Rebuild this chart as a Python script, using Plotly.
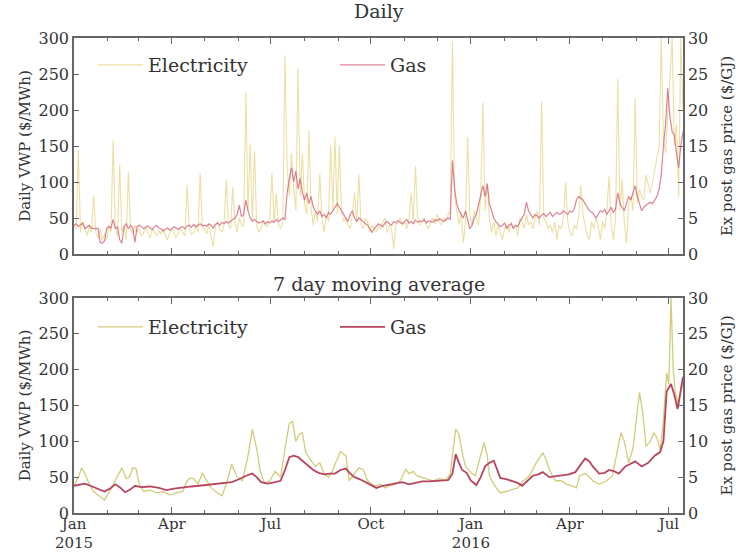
import pandas as pd
import plotly.graph_objects as go
from plotly.subplots import make_subplots

# ---------------- data ----------------
START = "2015-01-01"
# Daily series, sampled every 2 days from 2015-01-01 (281 values)
elec_daily = [
    40, 35, 144, 30, 45, 38, 25, 40, 30, 82,
    30, 22, 35, 18, 28, 20, 40, 30, 158, 35,
    25, 124, 30, 40, 20, 114, 35, 28, 40, 30,
    35, 25, 30, 38, 28, 22, 35, 30, 25, 32,
    28, 35, 25, 20, 30, 35, 28, 22, 30, 35,
    30, 25, 96, 35, 28, 30, 40, 30, 112, 38,
    35, 28, 40, 25, 10, 38, 45, 35, 30, 42,
    103, 40, 35, 93, 45, 30, 50, 40, 38, 225,
    60, 153, 45, 143, 40, 30, 35, 45, 40, 38,
    50, 112, 45, 84, 40, 35, 45, 276, 120, 80,
    140, 90, 60, 258, 80, 140, 70, 55, 172, 65,
    40, 60, 45, 112, 50, 30, 55, 45, 151, 60,
    163, 55, 151, 60, 45, 50, 40, 35, 55, 85,
    45, 110, 40, 35, 50, 45, 30, 40, 35, 30,
    40, 35, 45, 50, 30, 40, 35, 7, 40, 45,
    50, 40, 45, 35, 50, 85, 45, 122, 50, 40,
    45, 50, 40, 35, 45, 50, 42, 55, 45, 40,
    50, 45, 55, 60, 295, 80, 60, 40, 60, 15,
    45, 162, 55, 40, 60, 50, 40, 80, 210, 60,
    97, 50, 30, 45, 25, 40, 30, 20, 35, 40,
    30, 45, 35, 40, 25, 50, 45, 35, 55, 40,
    45, 35, 50, 60, 40, 212, 50, 45, 35, 40,
    30, 45, 20, 40, 35, 50, 99, 45, 30, 25,
    40, 35, 50, 95, 55, 40, 25, 20, 45, 35,
    50, 40, 20, 45, 35, 60, 108, 40, 20, 50,
    243, 60, 104, 45, 15, 70, 80, 60, 217, 70,
    90, 80, 75, 110, 95, 85, 100, 115, 130, 150,
    300, 160, 140, 200, 250, 300, 150, 180, 80, 300,
    200,
]
gas_daily = [
    4.0, 4.2, 3.8, 4.0, 4.3, 3.5, 3.8, 4.0, 3.6, 3.5,
    3.5, 3.6, 1.6, 1.5, 1.8, 3.5, 3.8, 3.6, 4.8, 3.5,
    3.8, 2.0, 1.5, 3.8, 4.2, 3.5, 4.0, 3.6, 1.6, 3.8,
    4.0, 3.8, 3.5, 3.7, 3.9, 3.6, 3.4, 3.8, 4.0, 3.6,
    3.5, 3.2, 3.4, 3.6, 3.3, 3.5, 3.8, 3.6, 3.4, 3.7,
    3.8, 3.5, 3.9, 4.0, 3.7, 4.1, 3.8, 4.0, 4.2, 3.9,
    4.0, 3.8, 4.2, 4.0, 3.6, 4.1, 4.3, 4.0, 4.4, 4.2,
    4.5, 4.3, 4.6, 4.8, 5.0, 5.5, 6.8, 5.2, 5.5, 7.5,
    6.0, 5.0, 4.6, 4.8, 4.5, 4.3, 4.4, 4.6, 4.2, 4.5,
    4.3, 4.6, 4.4, 4.8, 4.5, 4.7, 5.0, 4.8, 8.5, 10.5,
    12.0, 10.0, 11.5, 9.0, 10.5, 8.5, 7.5, 8.5, 7.0, 8.0,
    6.5, 6.0, 5.5, 6.0, 5.2, 5.5, 5.0, 5.8, 5.5, 6.0,
    6.5, 7.0, 6.5, 6.0, 5.5, 5.0, 4.5, 5.5, 6.0, 5.0,
    4.5, 5.0, 4.8, 4.5, 4.2, 4.0, 3.5, 3.0, 3.5, 3.8,
    4.2, 4.0, 3.8, 4.3, 4.5, 4.2, 4.0, 4.5, 4.3, 4.6,
    4.4, 4.2, 4.5, 4.8, 4.3, 4.5, 4.2, 4.7, 4.4, 4.6,
    4.5, 4.8, 4.3, 4.6, 4.5, 4.4, 4.8, 4.6, 4.9, 4.7,
    4.5, 4.8, 5.0, 4.8, 13.0, 9.0, 7.0, 6.0, 5.5, 5.0,
    6.0, 4.5, 3.5, 4.0, 5.0, 5.5, 7.0, 8.5, 9.5, 8.0,
    9.8, 7.0, 6.0, 5.0, 4.5, 4.2, 3.8, 4.0, 4.3, 3.5,
    4.0, 4.2, 3.6, 4.0, 3.8, 4.5, 5.0, 5.5, 7.2, 6.0,
    5.5, 5.0, 5.5, 5.2, 5.0, 5.4, 5.6, 5.2, 5.5, 5.8,
    5.2, 5.5, 5.8, 5.5, 5.6, 6.0, 5.8, 5.5, 6.0, 5.8,
    6.2, 7.5, 8.0, 7.8, 7.5, 7.0, 6.5, 6.0, 5.8, 5.5,
    5.0, 5.5, 6.0, 5.8, 6.2, 5.5, 6.0, 6.5, 5.8, 6.2,
    8.5, 7.0, 6.5, 6.0, 7.0, 8.0, 7.5, 8.5, 9.5, 8.0,
    7.0, 6.0, 6.5, 6.8, 7.0, 7.2, 7.0, 7.5, 8.0, 9.0,
    11.0, 15.0, 18.0, 23.0, 19.0, 17.0, 16.5, 14.0, 12.0, 15.0,
    17.0,
]

# 7-day moving averages (day offset from 2015-01-01, value)
elec_ma_days = [0, 4, 7, 10, 14, 18, 22, 28, 32, 36, 40, 44, 48, 51, 54, 57, 60, 64, 70, 76,
                82, 88, 94, 100, 104, 107, 110, 114, 118, 122, 126, 132, 136, 140, 145, 150, 155, 160, 164, 168,
                171, 175, 180, 185, 190, 194, 198, 201, 204, 207, 210, 213, 217, 222, 226, 230, 234, 238, 242, 245,
                248, 250, 253, 258, 262, 266, 270, 274, 277, 282, 286, 290, 295, 300, 305, 308, 312, 315, 320, 325,
                330, 336, 342, 346, 351, 354, 357, 360, 363, 366, 369, 373, 377, 380, 382, 386, 392, 397, 403, 408,
                413, 419, 425, 431, 434, 437, 440, 443, 448, 453, 458, 462, 465, 470, 474, 477, 483, 486, 490, 495,
                499, 503, 506, 510, 514, 517, 520, 523, 526, 530, 533, 536, 539, 542, 545, 547, 549, 551, 553, 556,
                558, 560]
elec_ma = [38, 50, 63, 55, 40, 30, 25, 18, 28, 40, 52, 63, 48, 50, 63, 62, 40, 30, 32, 28,
           30, 25, 28, 30, 45, 49, 48, 40, 56, 45, 35, 28, 24, 40, 68, 50, 45, 80, 117, 90,
           60, 42, 45, 58, 50, 90, 125, 128, 100, 110, 112, 85, 75, 65, 70, 55, 50, 60, 75, 86,
           82, 80, 45, 55, 63, 60, 45, 40, 38, 40, 35, 38, 40, 45, 61, 55, 58, 52, 50, 48,
           45, 48, 46, 55, 117, 110, 84, 65, 60, 55, 52, 75, 98, 80, 52, 40, 28, 30, 33, 35,
           45, 52, 70, 84, 75, 61, 52, 45, 45, 40, 38, 35, 52, 55, 50, 45, 40, 42, 45, 52,
           80, 112, 100, 70, 90, 130, 168, 140, 93, 100, 112, 105, 88, 130, 196, 180, 300, 200, 168, 150,
           170, 180]
gas_ma_days = [0, 5, 10, 15, 20, 25, 28, 33, 38, 42, 47, 52, 56, 62, 70, 78, 85, 92, 100, 108,
               115, 122, 130, 138, 145, 150, 155, 160, 164, 168, 172, 178, 185, 190, 194, 198, 202, 206, 210, 215,
               220, 225, 230, 235, 240, 245, 250, 254, 258, 263, 268, 273, 278, 284, 290, 296, 302, 308, 314, 320,
               326, 332, 338, 344, 348, 351, 354, 357, 361, 365, 370, 374, 378, 382, 386, 389, 392, 398, 403, 408,
               412, 418, 422, 427, 431, 437, 446, 455, 461, 466, 470, 474, 477, 483, 488, 492, 497, 501, 507, 511,
               516, 522, 528, 534, 539, 542, 545, 549, 552, 555, 558, 560]
gas_ma = [3.8, 4.0, 4.1, 3.8, 3.5, 3.2, 3.0, 3.4, 4.0, 3.6, 2.9, 3.3, 3.8, 3.6, 3.7, 3.5, 3.2, 3.4, 3.6, 3.7,
          3.8, 3.9, 4.0, 4.1, 4.3, 4.6, 5.0, 5.3, 5.5, 5.0, 4.3, 4.1, 4.3, 4.5, 6.0, 7.8, 8.0, 7.8, 7.3, 6.7,
          6.0, 5.6, 5.4, 5.5, 5.5, 6.0, 6.2, 5.5, 5.0, 4.7, 4.3, 3.8, 3.5, 3.8, 4.0, 4.2, 4.3, 4.0, 4.2, 4.4,
          4.4, 4.5, 4.5, 4.6, 5.5, 8.2, 7.0, 6.0, 5.6, 4.5, 3.9, 5.0, 6.5, 7.0, 7.3, 6.0, 4.9, 4.7, 4.5, 4.2,
          3.8, 4.6, 5.2, 5.4, 5.7, 5.0, 5.2, 5.4, 5.7, 6.8, 7.6, 7.2, 6.5, 5.5, 5.6, 6.0, 5.8, 5.5, 6.5, 6.8,
          7.2, 6.5, 7.0, 8.0, 8.5, 10.0, 17.0, 18.0, 16.5, 14.5, 17.0, 19.0]

tick_dates = ["2015-01-01", "2015-04-01", "2015-07-01", "2015-10-01",
              "2016-01-01", "2016-04-01", "2016-07-01"]
tick_labels = ["Jan<br>2015", "Apr", "Jul", "Oct", "Jan<br>2016", "Apr", "Jul"]
minor_dates = [d.strftime("%Y-%m-%d") for d in pd.date_range("2015-01-01", "2016-07-01", freq="MS")]
X_END = "2016-07-14"

# ---------------- build ----------------
start = pd.Timestamp(START)
daily_x = pd.date_range(START, periods=len(elec_daily), freq="2D")
elec_ma_x = [start + pd.Timedelta(days=d) for d in elec_ma_days]
gas_ma_x = [start + pd.Timedelta(days=d) for d in gas_ma_days]

FONT = "DejaVu Serif"
TXT = "#333333"
AX = "#666666"
C_EL_D = "rgba(228,210,125,0.7)"
C_GAS_D = "rgba(210,90,115,0.75)"
C_EL_M = "rgba(204,198,108,0.9)"
C_GAS_M = "#b8455e"

fig = make_subplots(rows=2, cols=1, specs=[[{"secondary_y": True}], [{"secondary_y": True}]])

fig.add_trace(go.Scatter(x=daily_x, y=elec_daily, mode="lines", name="Electricity",
                         line=dict(color=C_EL_D, width=1.1), legend="legend"),
              row=1, col=1, secondary_y=False)
fig.add_trace(go.Scatter(x=daily_x, y=gas_daily, mode="lines", name="Gas",
                         line=dict(color=C_GAS_D, width=1.2), legend="legend"),
              row=1, col=1, secondary_y=True)
fig.add_trace(go.Scatter(x=elec_ma_x, y=elec_ma, mode="lines", name="Electricity",
                         line=dict(color=C_EL_M, width=1.3), legend="legend2"),
              row=2, col=1, secondary_y=False)
fig.add_trace(go.Scatter(x=gas_ma_x, y=gas_ma, mode="lines", name="Gas",
                         line=dict(color=C_GAS_M, width=1.8), legend="legend2"),
              row=2, col=1, secondary_y=True)

W, H = 736, 552
L, R, T, B = 74, 53, 38, 39
ph = H - T - B
pw = W - L - R
top_dom = [(H - B - 254) / ph, 1.0]
bot_dom = [0.0, (H - B - 298) / ph]

TICKF = dict(family=FONT, size=16, color=TXT)
XTICKF = dict(family=FONT, size=15, color=TXT)
TITF = dict(family=FONT, size=15, color=TXT)

xcommon = dict(range=[START, X_END], tickvals=tick_dates, ticktext=tick_labels,
               ticks="inside", ticklen=6, tickcolor=AX, showline=True, linecolor=AX,
               linewidth=1.5, mirror="ticks", showgrid=False, zeroline=False,
               tickfont=XTICKF, automargin=False, ticklabelstandoff=-4,
               minor=dict(tickvals=minor_dates, ticks="inside", ticklen=3, tickcolor=AX))
fig.update_xaxes(**xcommon)
fig.update_xaxes(showticklabels=False, row=1, col=1)

ycommon = dict(range=[0, 300], dtick=50, ticks="inside", ticklen=5, tickcolor=AX,
               showline=True, linecolor=AX, linewidth=1.5, mirror=True, showgrid=False,
               zeroline=False, tickfont=TICKF, automargin=False,
               title=dict(text="Daily VWP ($/MWh)", font=TITF, standoff=4))
y2common = dict(range=[0, 30], dtick=5, ticks="inside", ticklen=5, tickcolor=AX,
                showline=True, linecolor=AX, linewidth=1.5, showgrid=False, zeroline=False,
                tickfont=TICKF, automargin=False,
                title=dict(text="Ex post gas price ($/GJ)", font=TITF, standoff=14))
for r in (1, 2):
    fig.update_yaxes(**ycommon, row=r, col=1, secondary_y=False)
    fig.update_yaxes(**y2common, row=r, col=1, secondary_y=True)

LEGF = dict(family=FONT, size=19, color=TXT)
legcommon = dict(orientation="h", x=(93 - L) / pw, xanchor="left", yanchor="middle",
                 bgcolor="rgba(0,0,0,0)", font=LEGF, itemwidth=45,
                 entrywidth=182, entrywidthmode="pixels")

fig.update_layout(
    width=W, height=H,
    margin=dict(l=L, r=R, t=T, b=B, autoexpand=False),
    paper_bgcolor="white", plot_bgcolor="white",
    font=dict(family=FONT, color=TXT),
    yaxis=dict(domain=top_dom), yaxis2=dict(domain=top_dom),
    yaxis3=dict(domain=bot_dom), yaxis4=dict(domain=bot_dom),
    xaxis=dict(domain=[0, 1]), xaxis2=dict(domain=[0, 1]),
    legend=dict(**legcommon, y=(H - B - 65) / ph),
    legend2=dict(**legcommon, y=(H - B - 327) / ph),
    annotations=[
        dict(text="Daily", x=0.5, y=(H - B - 11) / ph, xref="paper", yref="paper",
             showarrow=False, font=dict(family=FONT, size=19, color=TXT), yanchor="middle"),
        dict(text="7 day moving average", x=0.5, y=(H - B - 284) / ph, xref="paper", yref="paper",
             showarrow=False, font=dict(family=FONT, size=19, color=TXT), yanchor="middle"),
    ],
)

fig.write_html("out.html", config={"displayModeBar": False},
               post_script="document.body.style.margin='0';document.body.style.overflow='hidden';")
